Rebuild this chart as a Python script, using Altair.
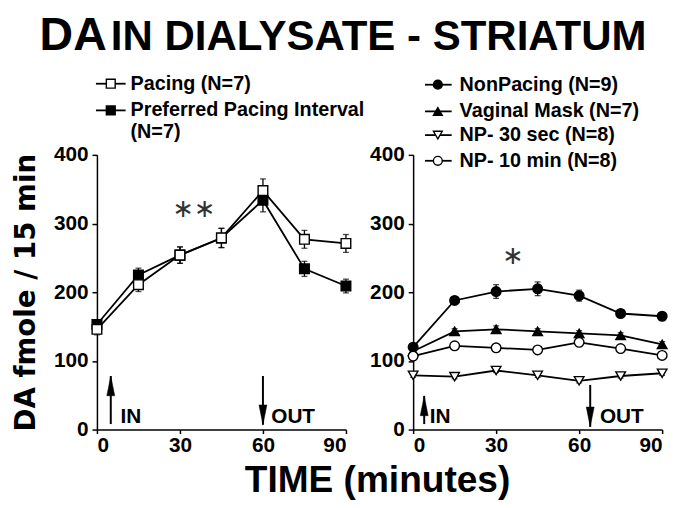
import altair as alt
import pandas as pd

# ---------------- data ----------------
times = [0, 15, 30, 45, 60, 75, 90]

pacing = [146, 211, 254, 279, 348, 277, 271]
pacing_err = [8, 10, 12, 14, 17, 13, 13]
preferred = [153, 225, 254, 279, 334, 234, 209]
preferred_err = [6, 10, 12, 14, 17, 11, 10]

nonpacing = [120, 188, 201, 205, 195, 169, 165]
nonpacing_err = [5, 5, 10, 10, 8, 5, 4]
vaginal = [114, 143, 146, 143, 140, 137, 124]
vaginal_err = [4, 4, 5, 4, 4, 4, 4]
np30 = [79, 77, 86, 79, 71, 78, 82]
np30_err = [3, 3, 3, 3, 3, 3, 3]
np10 = [107, 122, 119, 116, 127, 118, 108]
np10_err = [3, 3, 3, 3, 3, 3, 3]

left_legend_labels = ["Pacing (N=7)", "Preferred Pacing Interval", "(N=7)"]
right_legend_labels = ["NonPacing (N=9)", "Vaginal Mask (N=7)",
                       "NP- 30 sec (N=8)", "NP- 10 min (N=8)"]

x_ticks = [0, 30, 60, 90]
y_ticks = [0, 100, 200, 300, 400]

# annotation arrows: (time, start value, tip value)
left_arrows = [(5, 8, 78), (60, 78, 7)]
right_arrows = [(4, 8, 49), (64, 65, 4)]
left_arrow_text = [("IN", 8.5), ("OUT", 63)]
right_arrow_text = [("IN", 6), ("OUT", 67.5)]
left_star = ("∗∗", 35, 321)
right_star = ("∗", 36, 252)

# ---------------- layout helpers ----------------
FONT = "Liberation Sans"
PW, PH = 252, 278
XMAX, YMAX = 90, 400


def tx(px):  # pixels right of plot's left edge -> minutes
    return px / PW * XMAX


def vy(py):  # pixels below plot's top edge -> value
    return YMAX - py / PH * YMAX


xscale = alt.Scale(domain=[0, XMAX], nice=False, zero=False)
yscale = alt.Scale(domain=[0, YMAX], nice=False, zero=False)


def X(field):
    return alt.X(f"{field}:Q", scale=xscale,
                 axis=alt.Axis(values=x_ticks, title=None, tickSize=4,
                               labelPadding=1, grid=False))


def Y(field, title):
    return alt.Y(f"{field}:Q", scale=yscale,
                 axis=alt.Axis(values=y_ticks, title=title, tickSize=5,
                               labelPadding=4, grid=False, titlePadding=13,
                               titleFontSize=28, titleFont="DejaVu Sans",
                               titleFontWeight="bold", titleColor="black"))


SQUARE = "square"
UP_HEAD = "M0,0L0.4,2L-0.4,2Z"
DOWN_HEAD = "M0,0L0.4,-2L-0.4,-2Z"


def panel(series, legend_rows, legend_geom, arrows, arrow_text, star, ytitle):
    lines, bars, caps, pts = [], [], [], []
    for name, vals, errs, shape, fill in series:
        df = pd.DataFrame({"t": times, "v": vals,
                           "lo": [v - e for v, e in zip(vals, errs)],
                           "hi": [v + e for v, e in zip(vals, errs)]})
        base = alt.Chart(df)
        lines.append(base.mark_line(color="black", strokeWidth=1.8)
                     .encode(x=X("t"), y=Y("v", ytitle)))
        bars.append(base.mark_rule(color="black", strokeWidth=1.3)
                    .encode(x=X("t"), y=Y("lo", ytitle), y2="hi:Q"))
        caps.append(base.mark_tick(color="black", orient="horizontal",
                                   size=6, thickness=1.3)
                    .encode(x=X("t"), y=Y("hi", ytitle)))
        caps.append(base.mark_tick(color="black", orient="horizontal",
                                   size=6, thickness=1.3)
                    .encode(x=X("t"), y=Y("lo", ytitle)))
        pts.append(base.mark_point(shape=shape, filled=True, fill=fill,
                                   stroke="black", strokeWidth=1.4,
                                   size=95, opacity=1)
                   .encode(x=X("t"), y=Y("v", ytitle)))

    # legend
    lx1, lx2, mx, txx, rows_y = legend_geom
    leg = []
    for (lab, shape, fill), ry in zip(legend_rows, rows_y):
        d = pd.DataFrame({"t": [tx(mx)], "t1": [tx(lx1)], "t2": [tx(lx2)],
                          "tt": [tx(txx)], "v": [vy(ry)], "label": [lab]})
        b = alt.Chart(d)
        if shape is not None:
            leg.append(b.mark_rule(color="black", strokeWidth=1.8)
                       .encode(x=X("t1"), x2="t2:Q", y=Y("v", ytitle)))
            leg.append(b.mark_point(shape=shape, filled=True, fill=fill,
                                    stroke="black", strokeWidth=1.4,
                                    size=80, opacity=1)
                       .encode(x=X("t"), y=Y("v", ytitle)))
        leg.append(b.mark_text(align="left", baseline="middle", font=FONT,
                               fontWeight="bold", fontSize=20, color="black")
                   .encode(x=X("tt"), y=Y("v", ytitle), text="label:N"))

    # arrows
    adf = pd.DataFrame({"t": [a[0] for a in arrows],
                        "v1": [a[1] for a in arrows],
                        "v2": [a[2] for a in arrows]})
    arr = [alt.Chart(adf).mark_rule(color="black", strokeWidth=2)
           .encode(x=X("t"), y=Y("v1", ytitle), y2="v2:Q")]
    for (t, v1, v2) in arrows:
        hd = pd.DataFrame({"t": [t], "v": [v2]})
        arr.append(alt.Chart(hd).mark_point(
            shape=UP_HEAD if v2 > v1 else DOWN_HEAD, filled=True,
            fill="black", stroke="black", strokeWidth=0.5, size=400, opacity=1)
            .encode(x=X("t"), y=Y("v", ytitle)))
    atdf = pd.DataFrame({"label": [a[0] for a in arrow_text],
                         "t": [a[1] for a in arrow_text],
                         "v": [vy(PH - 7)] * len(arrow_text)})
    arr.append(alt.Chart(atdf).mark_text(align="left", baseline="alphabetic",
                                         font=FONT, fontWeight="bold",
                                         fontSize=21, color="black")
               .encode(x=X("t"), y=Y("v", ytitle), text="label:N"))

    sdf = pd.DataFrame({"label": [star[0]], "t": [star[1]], "v": [star[2]]})
    st = alt.Chart(sdf).mark_text(align="center", baseline="middle",
                                  font="DejaVu Sans", fontSize=26,
                                  color="#333333").encode(
        x=X("t"), y=Y("v", ytitle), text="label:N")

    return lines + bars + caps + pts + leg + arr + [st]


left_series = [
    ("Preferred", preferred, preferred_err, SQUARE, "black"),
    ("Pacing", pacing, pacing_err, SQUARE, "white"),
]
right_series = [
    ("NonPacing", nonpacing, nonpacing_err, "circle", "black"),
    ("Vaginal", vaginal, vaginal_err, "triangle-up", "black"),
    ("NP30", np30, np30_err, "triangle-down", "white"),
    ("NP10", np10, np10_err, "circle", "white"),
]

left_rows = [(left_legend_labels[0], SQUARE, "white"),
             (left_legend_labels[1], SQUARE, "black"),
             (left_legend_labels[2], None, None)]
right_rows = [(right_legend_labels[0], "circle", "black"),
              (right_legend_labels[1], "triangle-up", "black"),
              (right_legend_labels[2], "triangle-down", "white"),
              (right_legend_labels[3], "circle", "white")]

left_layers = panel(left_series, left_rows, (-1, 29, 14, 34, [-72, -45, -23]),
                    left_arrows, left_arrow_text, left_star,
                    "DA fmole / 15 min")
right_layers = panel(right_series, right_rows, (12, 39, 25, 47, [-71, -44, -20, 6]),
                     right_arrows, right_arrow_text, right_star, None)

# titles as text in left panel (pixel positions relative to left plot)
tdf = pd.DataFrame({"a": [0]})
title_da = alt.Chart(tdf).mark_text(
    align="left", baseline="alphabetic", font=FONT, fontWeight="bold",
    fontSize=47, color="black", text="DA").encode(
    x=alt.value(-58), y=alt.value(-106))
title_rest = alt.Chart(tdf).mark_text(
    align="left", baseline="alphabetic", font=FONT, fontWeight="bold",
    fontSize=42.5, color="black", text="IN DIALYSATE - STRIATUM").encode(
    x=alt.value(14), y=alt.value(-106))
xtitle = alt.Chart(tdf).mark_text(
    align="center", baseline="alphabetic", font=FONT, fontWeight="bold",
    fontSize=37.5, color="black", text="TIME (minutes)").encode(
    x=alt.value(284), y=alt.value(341))

left = alt.layer(*left_layers, title_da, title_rest, xtitle).properties(
    width=PW, height=PH)
right = alt.layer(*right_layers).properties(width=PW, height=PH)

chart = alt.hconcat(left, right, spacing=68, bounds="flush").properties(
    autosize=alt.AutoSizeParams(type="none"),
    padding={"left": 90, "top": 144, "right": 584, "bottom": 348},
).configure_view(stroke=None).configure_axis(
    domainColor="black", domainWidth=1.5, tickColor="black", tickWidth=1.5,
    labelFont=FONT, labelFontWeight="bold", labelFontSize=21,
    labelColor="black"
)

chart.save("out.html", embed_options={"renderer": "svg", "actions": False})
